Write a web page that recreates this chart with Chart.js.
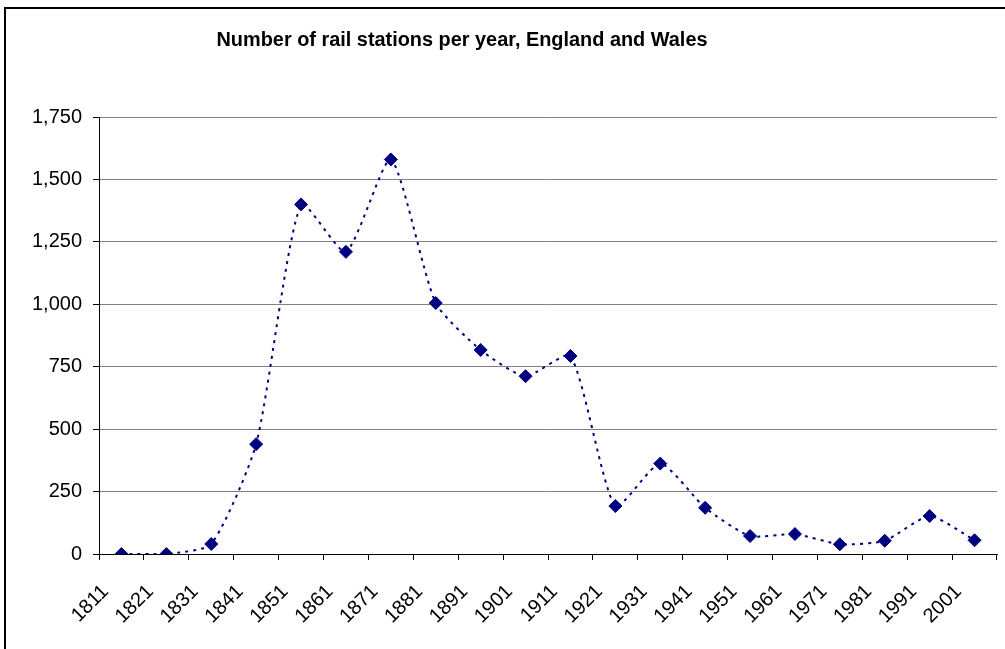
<!DOCTYPE html>
<html>
<head>
<meta charset="utf-8">
<title>Number of rail stations per year, England and Wales</title>
<script src="https://cdn.jsdelivr.net/npm/chart.js@4.4.0/dist/chart.umd.min.js"></script>
<style>
  html, body { margin: 0; padding: 0; background: #fff; }
  #wrap { position: absolute; left: 0; top: 0; width: 1005px; height: 649px; }
</style>
</head>
<body>
<div id="wrap"><canvas id="railChart" width="1005" height="649"></canvas></div>
<script>
// Datos
const years = ['1811', '1821', '1831', '1841', '1851', '1861', '1871', '1881', '1891', '1901',
               '1911', '1921', '1931', '1941', '1951', '1961', '1971', '1981', '1991', '2001'];
const stations = [0, 0, 40, 440, 1400, 1210, 1580, 1005, 817, 712,
                  793, 192, 362, 185, 72, 80, 39, 53, 152, 55];
const titleText = 'Number of rail stations per year, England and Wales';

// Marco y título dibujados a mano (el título no está centrado en el área)
const framePlugin = {
    id: 'frame',
    beforeDraw(chart) {
        const ctx = chart.ctx;
        ctx.save();
        ctx.fillStyle = '#fff';
        ctx.fillRect(0, 0, chart.width, chart.height);
        ctx.fillStyle = '#000';
        ctx.fillRect(4, 7, chart.width - 4, 2);
        ctx.fillRect(4, 7, 2, chart.height - 7);
        ctx.restore();
    },
    afterDraw(chart) {
        const ctx = chart.ctx;
        ctx.save();
        ctx.fillStyle = '#000';
        ctx.font = 'bold 20px "Liberation Sans", Arial, sans-serif';
        ctx.textAlign = 'center';
        ctx.textBaseline = 'alphabetic';
        ctx.fillText(titleText, 462, 46, 491);
        ctx.restore();
    }
};

function initChart() {
    const ctx = document.getElementById('railChart');
    new Chart(ctx, {
        type: 'line',
        data: {
            labels: years,
            datasets: [{
                label: 'Stations',
                data: stations,
                borderColor: '#000080',
                backgroundColor: '#000080',
                borderWidth: 2,
                borderDash: [3, 5],
                tension: 0.2,
                pointStyle: 'rectRot',
                pointRadius: 6.5,
                pointHoverRadius: 6.5,
                pointBorderWidth: 1,
                pointBorderColor: '#000080'
            }]
        },
        options: {
            responsive: false,
            animation: false,
            layout: { padding: { left: 0, right: 8, top: 117, bottom: 0 } },
            plugins: {
                legend: { display: false },
                title: { display: false },
                tooltip: { enabled: false }
            },
            scales: {
                x: {
                    type: 'category',
                    offset: true,
                    grid: {
                        offset: true,
                        drawOnChartArea: false,
                        drawTicks: true,
                        tickLength: 6,
                        tickColor: '#000'
                    },
                    border: { color: '#000', width: 1 },
                    ticks: {
                        color: '#000',
                        font: { family: '"Liberation Sans", Arial, sans-serif', size: 20 },
                        minRotation: 45,
                        maxRotation: 45,
                        autoSkip: false,
                        padding: 20,
                        labelOffset: -16
                    },
                    afterFit(scale) {
                        scale.height = 95;
                        // que las etiquetas giradas no encojan el área del gráfico
                        scale.paddingLeft = 0;
                        scale.paddingRight = 0;
                    }
                },
                y: {
                    min: 0,
                    max: 1750,
                    grid: {
                        color: '#808080',
                        lineWidth: 1,
                        tickLength: 6,
                        tickColor: '#000'
                    },
                    border: { color: '#000', width: 1 },
                    ticks: {
                        stepSize: 250,
                        color: '#000',
                        padding: 11,
                        font: { family: '"Liberation Sans", Arial, sans-serif', size: 20 },
                        callback: function(v) { return v.toLocaleString('en-US'); }
                    },
                    afterFit(scale) { scale.width = 99; }
                }
            }
        },
        plugins: [framePlugin]
    });
}

initChart();
</script>
</body>
</html>
